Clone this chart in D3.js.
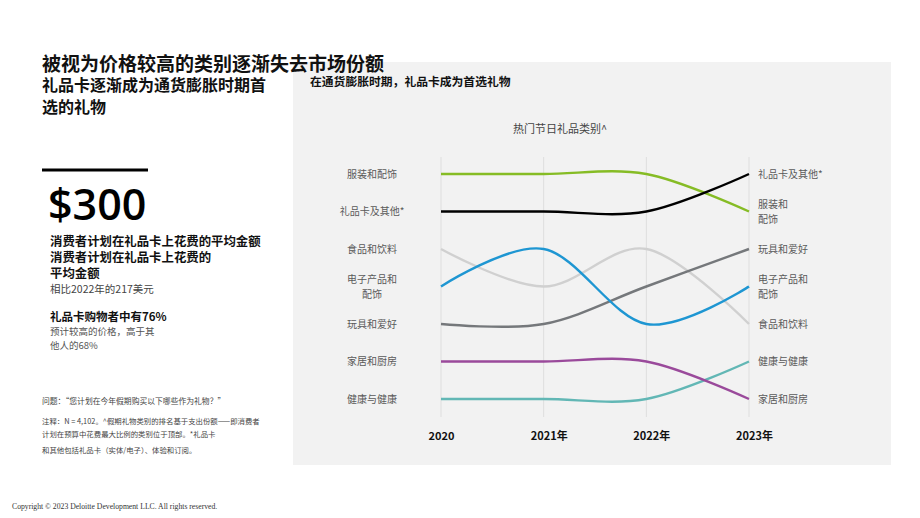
<!DOCTYPE html>
<html>
  <head>
    <meta charset="utf-8">
    <title>礼品类别排名</title>
    <script src="https://cdn.jsdelivr.net/npm/d3@7"></script>
    <style>
      body { margin: 0; background: #fff; }
      svg { display: block; font-family: "Noto Sans CJK SC", "Noto Sans", sans-serif; }
      .cat-label { font-size: 10px; fill: #5a5a5a; }
      .year-label { font-size: 11px; font-weight: 700; fill: #111; }
      .grid { stroke: #dedede; stroke-width: 1; }
      .bump { fill: none; stroke-width: 2.4; }
      .note { font-size: 7.4px; fill: #444; }
    </style>
  </head>
  <body>
    <svg id="chart" width="920" height="518"></svg>
  </body>
  <script>
    // data: rank (1 = top) per year
    const years = ["2020", "2021年", "2022年", "2023年"];
    const categories = ["服装和配饰", "礼品卡及其他*", "食品和饮料", "电子产品和配饰", "玩具和爱好", "家居和厨房", "健康与健康"];
    const apparelRank = [1, 1, 1, 2];
    const giftCardRank = [2, 2, 2, 1];
    const foodRank = [3, 4, 3, 5];
    const electronicsRank = [4, 3, 5, 4];
    const toysRank = [5, 5, 4, 3];
    const homeRank = [6, 6, 6, 7];
    const healthRank = [7, 7, 7, 6];
    // how the labels wrap on each side
    const leftLabels = ["服装和配饰", "礼品卡及其他*", "食品和饮料", "电子产品和\n配饰", "玩具和爱好", "家居和厨房", "健康与健康"];
    const rightLabels = ["服装和\n配饰", "礼品卡及其他*", "食品和饮料", "电子产品和\n配饰", "玩具和爱好", "家居和厨房", "健康与健康"];

    const ranks = [apparelRank, giftCardRank, foodRank, electronicsRank, toysRank, homeRank, healthRank];
    const colors = ["#86bc25", "#000000", "#d0d0d0", "#1e96d2", "#75787b", "#9a4a9b", "#62b7b5"];

    const series = categories.map((c, i) => ({
      name: c,
      left: leftLabels[i],
      right: rightLabels[i],
      values: ranks[i].map((r, j) => ({ year: years[j], rank: r }))
    }));

    const svg = d3.select("#chart");

    // grey panel behind the chart
    svg.append("rect")
      .attr("x", 293).attr("y", 62)
      .attr("width", 598).attr("height", 403)
      .attr("fill", "#f2f2f2");

    // left column text
    const left = svg.append("g");
    left.append("text").attr("x", 42).attr("y", 71)
      .style("font-size", "19px").style("font-weight", 700).attr("fill", "#111")
      .text("被视为价格较高的类别逐渐失去市场份额");
    left.append("text").attr("x", 42).attr("y", 91)
      .style("font-size", "16px").style("font-weight", 700).attr("fill", "#111")
      .text("礼品卡逐渐成为通货膨胀时期首");
    left.append("text").attr("x", 42).attr("y", 113)
      .style("font-size", "16px").style("font-weight", 700).attr("fill", "#111")
      .text("选的礼物");

    left.append("line")
      .attr("x1", 42).attr("x2", 148).attr("y1", 170).attr("y2", 170)
      .attr("stroke", "#000").attr("stroke-width", 3);

    left.append("text").attr("x", 48).attr("y", 220)
      .style("font-family", "'Open Sans', sans-serif")
      .style("font-size", "43px").style("font-weight", 600).attr("fill", "#000")
      .text("$300");

    const boldLines = [["消费者计划在礼品卡上花费的平均金额", 246], ["消费者计划在礼品卡上花费的", 262], ["平均金额", 278]];
    boldLines.forEach(([t, y]) => {
      left.append("text").attr("x", 50).attr("y", y)
        .style("font-size", "12.4px").style("font-weight", 700).attr("fill", "#111").text(t);
    });
    left.append("text").attr("x", 50).attr("y", 293)
      .style("font-size", "10.5px").attr("fill", "#444").text("相比2022年的217美元");

    left.append("text").attr("x", 50).attr("y", 321)
      .style("font-size", "11.5px").style("font-weight", 700).attr("fill", "#111").text("礼品卡购物者中有76%");
    left.append("text").attr("x", 50).attr("y", 335)
      .style("font-size", "9.5px").attr("fill", "#555").text("预计较高的价格，高于其");
    left.append("text").attr("x", 50).attr("y", 349)
      .style("font-size", "9.5px").attr("fill", "#555").text("他人的68%");

    left.append("text").attr("class", "note").attr("x", 42).attr("y", 404)
      .style("font-size", "7.8px").text("问题：“您计划在今年假期购买以下哪些作为礼物？”");
    left.append("text").attr("class", "note").attr("x", 42).attr("y", 424)
      .text("注释：N = 4,102。^假期礼物类别的排名基于支出份额——即消费者");
    left.append("text").attr("class", "note").attr("x", 42).attr("y", 437)
      .text("计划在预算中花费最大比例的类别位于顶部。*礼品卡");
    left.append("text").attr("class", "note").attr("x", 42).attr("y", 453)
      .text("和其他包括礼品卡（实体/电子）、体验和订阅。");

    svg.append("text").attr("x", 12).attr("y", 509)
      .style("font-family", "'Liberation Serif', serif").style("font-size", "7.7px").attr("fill", "#333")
      .text("Copyright © 2023 Deloitte Development LLC. All rights reserved.");

    // chart titles
    svg.append("text").attr("x", 310).attr("y", 86)
      .style("font-size", "11.8px").style("font-weight", 700).attr("fill", "#111")
      .text("在通货膨胀时期，礼品卡成为首选礼物");
    svg.append("text").attr("x", 560).attr("y", 133).attr("text-anchor", "middle")
      .style("font-size", "11px").attr("fill", "#444")
      .text("热门节日礼品类别^");

    // scales
    const x = d3.scalePoint().domain(years).range([441, 749]);
    const y = d3.scaleLinear().domain([1, 7]).range([174, 399]);
    const color = d3.scaleOrdinal(categories, colors);

    const chart = svg.append("g");

    chart.selectAll(".grid")
      .data(years)
      .join("line")
      .attr("class", "grid")
      .attr("x1", d => x(d)).attr("x2", d => x(d))
      .attr("y1", 157).attr("y2", 417);

    // x axis: year labels only
    const xAxis = chart.append("g")
      .attr("transform", "translate(0, 430)")
      .call(d3.axisBottom(x).tickSize(0).tickPadding(0));
    xAxis.select(".domain").remove();
    xAxis.selectAll("text")
      .attr("class", "year-label")
      .attr("dy", "0.95em")
      .attr("dx", (d, i) => i === 0 ? 0 : 5)
      .style("font-family", "'Noto Sans CJK SC', sans-serif");

    const line = d3.line()
      .x(d => x(d.year))
      .y(d => y(d.rank))
      .curve(d3.curveCardinal.tension(0));

    // draw light lines first so darker ones sit on top
    const drawOrder = [2, 6, 5, 4, 3, 0, 1];
    chart.selectAll(".bump")
      .data(drawOrder.map(i => series[i]))
      .join("path")
      .attr("class", "bump")
      .attr("stroke", d => color(d.name))
      .attr("d", d => line(d.values));

    function addLabel(g, text, xPos, yPos, anchor) {
      const parts = text.split("\n");
      const t = g.append("text")
        .attr("class", "cat-label")
        .attr("text-anchor", anchor)
        .attr("x", xPos)
        .attr("y", yPos - (parts.length - 1) * 7.5)
        .attr("dy", "0.35em");
      parts.forEach((p, k) => {
        t.append("tspan").attr("x", xPos).attr("dy", k === 0 ? "0.35em" : "1.5em").text(p);
      });
    }

    series.forEach(s => {
      const first = s.values[0], last = s.values[s.values.length - 1];
      addLabel(chart, s.left, 372, y(first.rank), "middle");
      addLabel(chart, s.right, 758, y(last.rank), "start");
    });
  </script>
</html>
